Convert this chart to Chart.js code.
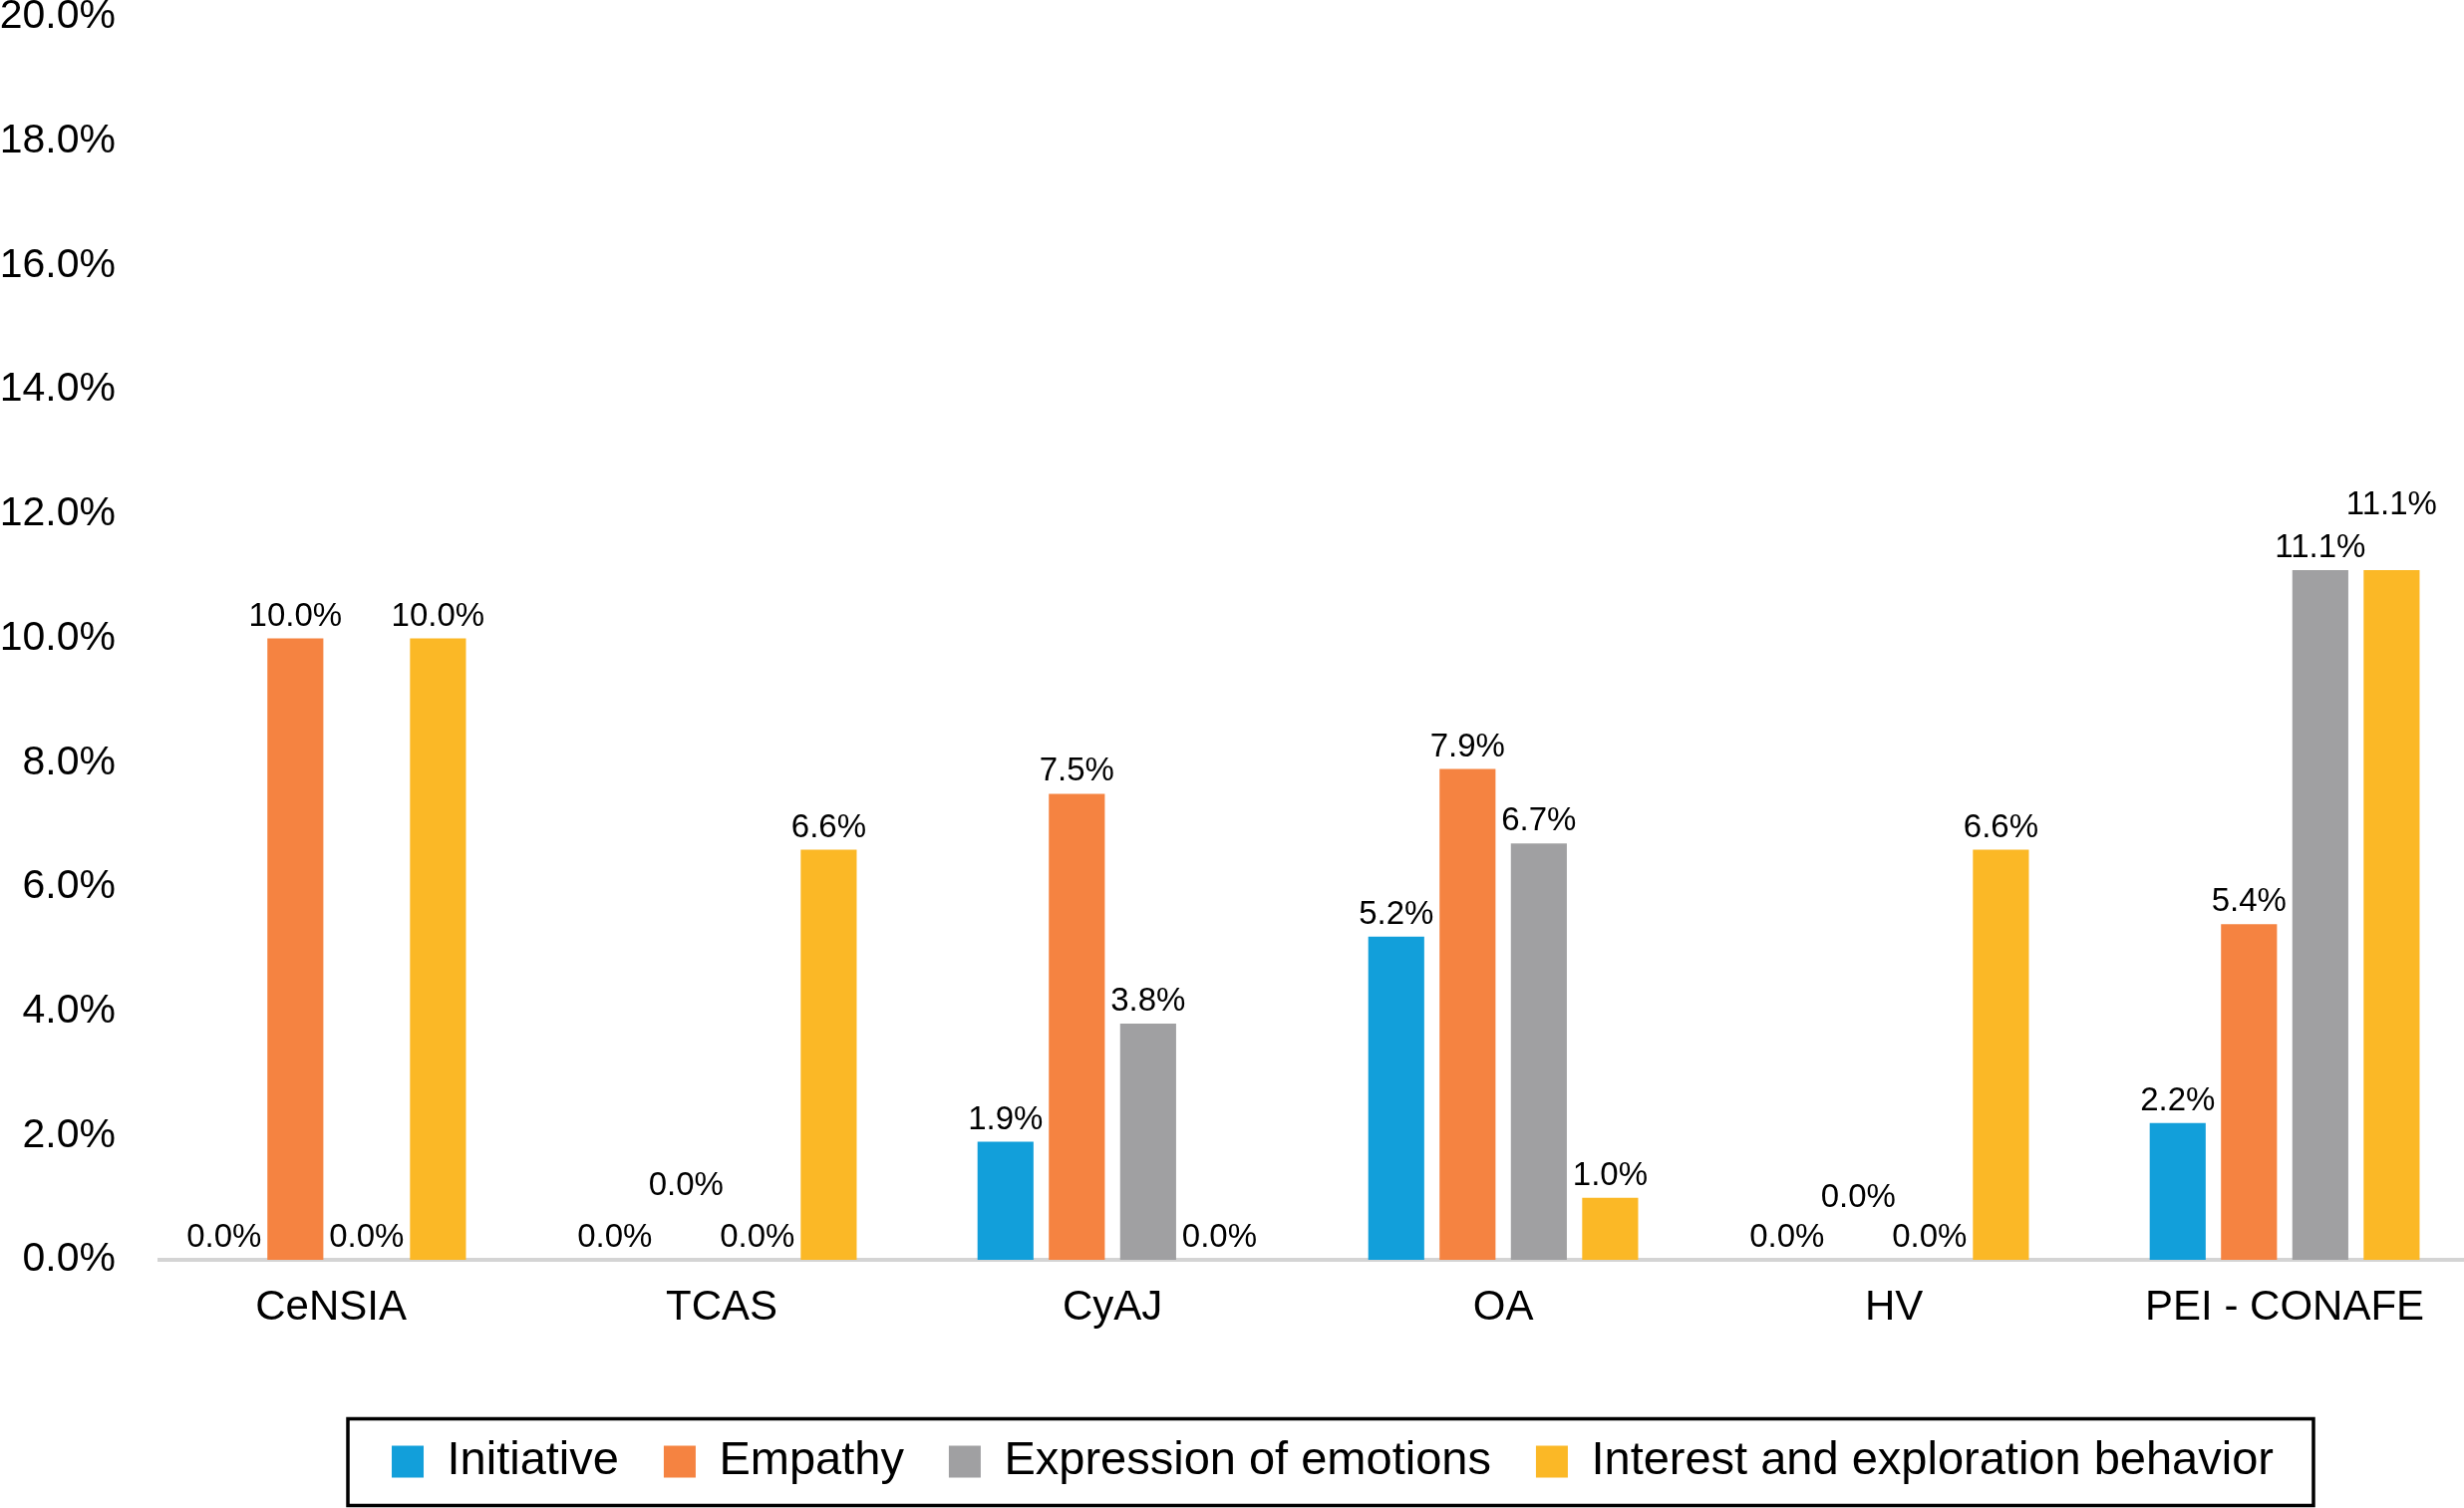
<!DOCTYPE html>
<html>
<head>
<meta charset="utf-8">
<script src="https://cdn.jsdelivr.net/npm/chart.js@4.4.1/dist/chart.umd.min.js"></script>
<style>
  html, body { margin: 0; padding: 0; background: #fff; }
  #wrap { width: 2472px; height: 1513px; }
</style>
</head>
<body>
<div id="wrap"><canvas id="myBarChart"></canvas></div>
<script>
// categories and series (percent values)
const categories = ['CeNSIA', 'TCAS', 'CyAJ', 'OA', 'HV', 'PEI - CONAFE'];
const seriesNames = ['Initiative', 'Empathy', 'Expression of emotions', 'Interest and exploration behavior'];
const initiative = [0.0, 0.0, 1.9, 5.2, 0.0, 2.2];
const empathy = [10.0, 0.0, 7.5, 7.9, 0.0, 5.4];
const expression = [0.0, 0.0, 3.8, 6.7, 0.0, 11.1];
const interest = [10.0, 6.6, 0.0, 1.0, 6.6, 11.1];
const yTicks = [0, 2, 4, 6, 8, 10, 12, 14, 16, 18, 20];

const colors = ['#129FDA', '#F58341', '#A0A0A2', '#FBB826'];
const FONT = '"Liberation Sans", Arial, Helvetica, sans-serif';

// some value labels are lifted to avoid overlaps (dataset-index : px)
const labelLift = { '1-1': 52, '1-4': 40, '3-5': 43 };

const valueLabels = {
    id: 'valueLabels',
    afterDatasetsDraw(chart) {
        const ctx = chart.ctx;
        ctx.save();
        ctx.font = '33px ' + FONT;
        ctx.fillStyle = '#000';
        ctx.textAlign = 'center';
        ctx.textBaseline = 'middle';
        chart.data.datasets.forEach((ds, di) => {
            chart.getDatasetMeta(di).data.forEach((bar, i) => {
                const lift = labelLift[di + '-' + i] || 0;
                ctx.fillText(ds.data[i].y.toFixed(1) + '%', bar.x, bar.y - 22 - lift);
            });
        });
        ctx.restore();
    }
};

// legend sits a little right of the plot centre, with a black frame round it
const legendFrame = {
    id: 'legendFrame',
    afterLayout(chart) {
        chart.legend.left += 21;
        chart.legend.right += 21;
    },
    afterDraw(chart) {
        const boxes = chart.legend.legendHitBoxes;
        if (!boxes || !boxes.length) return;
        const left = Math.min(...boxes.map(b => b.left));
        const right = Math.max(...boxes.map(b => b.left + b.width));
        const mid = boxes[0].top + boxes[0].height / 2;
        const ctx = chart.ctx;
        ctx.save();
        ctx.strokeStyle = '#000';
        ctx.lineWidth = 3.5;
        ctx.strokeRect(left - 44, mid - 43, right - left + 84, 87);
        ctx.restore();
    }
};

const ctx = document.getElementById('myBarChart');
const myBarChart = new Chart(ctx, {
    type: 'bar',
    data: {
        labels: categories,
        datasets: [initiative, empathy, expression, interest].map((d, i) => ({
            label: seriesNames[i],
            data: d.map((v, k) => ({ x: k, y: v })),
            backgroundColor: colors[i],
            borderWidth: 0,
            categoryPercentage: 0.73,
            barPercentage: 0.785
        }))
    },
    options: {
        responsive: true,
        maintainAspectRatio: false,
        animation: false,
        devicePixelRatio: 1,
        layout: { padding: { top: 0, right: 0, bottom: 13, left: 0 } },
        scales: {
            x: {
                type: 'linear',
                offset: false,
                min: -0.439,
                max: 5.459,
                afterBuildTicks(scale) { scale.ticks = categories.map((c, k) => ({ value: k })); },
                afterFit(scale) {
                    scale.height = 134;
                    scale.paddingLeft = 0;
                    scale.paddingRight = 0;
                },
                grid: { display: false, drawTicks: false },
                border: { display: true, color: '#D4D4D4', width: 4 },
                ticks: {
                    autoSkip: false,
                    maxRotation: 0,
                    color: '#000',
                    font: { family: FONT, size: 42 },
                    padding: 23,
                    callback: v => categories[v]
                }
            },
            y: {
                min: 0,
                max: 20,
                afterBuildTicks(scale) { scale.ticks = yTicks.map(v => ({ value: v })); },
                afterFit(scale) {
                    scale.width = 160;
                    scale.paddingTop = 17;
                    scale.paddingBottom = 0;
                },
                grid: { display: false, drawTicks: false },
                border: { display: false },
                ticks: {
                    color: '#000',
                    padding: 44,
                    font: { family: FONT, size: 41 },
                    callback: v => v.toFixed(1) + '%'
                }
            }
        },
        plugins: {
            legend: {
                position: 'bottom',
                fullSize: false,
                labels: {
                    color: '#000',
                    font: { family: FONT, size: 47 },
                    boxWidth: 32,
                    boxHeight: 32,
                    padding: 45
                }
            },
            tooltip: { enabled: false }
        }
    },
    plugins: [valueLabels, legendFrame]
});
</script>
</body>
</html>
